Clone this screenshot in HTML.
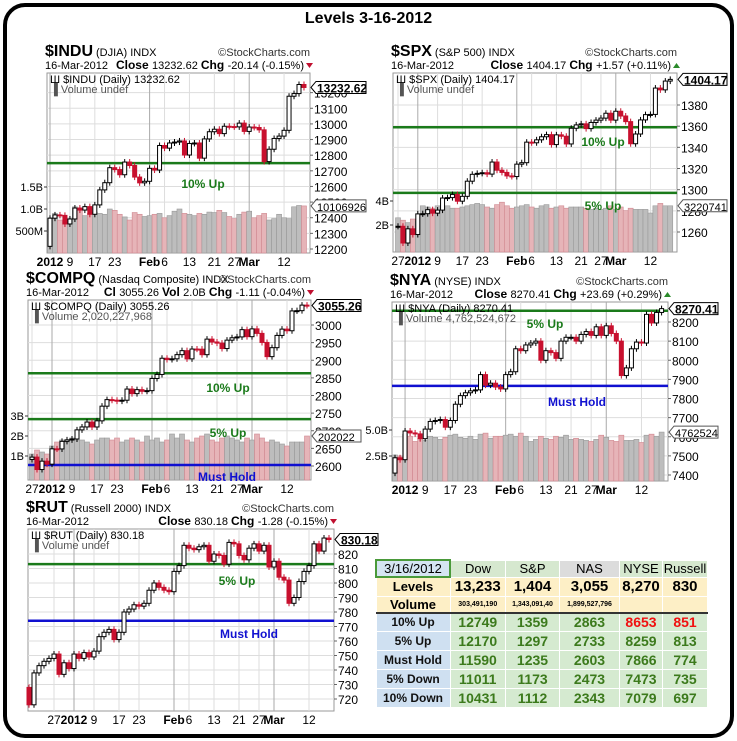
<!DOCTYPE html>
<html><head><meta charset="utf-8">
<style>
html,body{margin:0;padding:0;background:#fff;}
body{width:737px;height:741px;position:relative;overflow:hidden;font-family:"Liberation Sans",sans-serif;}
#frame{position:absolute;left:3px;top:3px;width:723px;height:727px;border:4px solid #000;border-radius:22px;}
#title{position:absolute;left:0;width:737px;top:10px;text-align:center;font-weight:bold;font-size:16px;}
svg{position:absolute;left:0;top:0;}
table{position:absolute;left:375px;top:559px;border-collapse:collapse;font-family:"Liberation Sans",sans-serif;}
td{padding:0;text-align:center;border:1px solid #fff;font-weight:bold;}
</style></head>
<body>
<div id="frame"></div>
<div id="title">Levels 3-16-2012</div>
<svg id="svg" width="737" height="741"></svg>

<table>
<tr style="height:16px;background:#d6e8cf;font-size:13px;font-weight:normal">
<td style="width:72px;background:#d5e5f2;border:2px solid #4a9a3a;font-weight:normal">3/16/2012</td>
<td style="width:54px;font-weight:normal">Dow</td>
<td style="width:53px;font-weight:normal">S&amp;P</td>
<td style="width:59px;font-weight:normal;background:#dcdcdc">NAS</td>
<td style="width:42px;font-weight:normal">NYSE</td>
<td style="width:44px;font-weight:normal">Russell</td></tr>
<tr style="height:19px;background:#fdefc6;font-size:15px">
<td style="font-size:13px">Levels</td><td>13,233</td><td>1,404</td><td>3,055</td><td>8,270</td><td>830</td></tr>
<tr style="height:15px;background:#fdefc6;font-size:7px;border-bottom:2px solid #333">
<td style="font-size:13px">Volume</td><td>303,491,190</td><td>1,343,091,40</td><td>1,899,527,796</td><td></td><td></td></tr>
<tr style="height:19px;font-size:14px;color:#3c7a1c;background:#d5ead0">
<td style="background:#cfe0f1;color:#111;font-size:12px">10% Up</td><td>12749</td><td>1359</td><td>2863</td><td style="color:#f01010">8653</td><td style="color:#f01010">851</td></tr>
<tr style="height:19px;font-size:14px;color:#3c7a1c;background:#d5ead0">
<td style="background:#cfe0f1;color:#111;font-size:12px">5% Up</td><td>12170</td><td>1297</td><td>2733</td><td>8259</td><td>813</td></tr>
<tr style="height:19px;font-size:14px;color:#3c7a1c;background:#d5ead0">
<td style="background:#cfe0f1;color:#111;font-size:12px">Must Hold</td><td>11590</td><td>1235</td><td>2603</td><td>7866</td><td>774</td></tr>
<tr style="height:19px;font-size:14px;color:#3c7a1c;background:#d5ead0">
<td style="background:#cfe0f1;color:#111;font-size:12px">5% Down</td><td>11011</td><td>1173</td><td>2473</td><td>7473</td><td>735</td></tr>
<tr style="height:19px;font-size:14px;color:#3c7a1c;background:#d5ead0">
<td style="background:#cfe0f1;color:#111;font-size:12px">10% Down</td><td>10431</td><td>1112</td><td>2343</td><td>7079</td><td>697</td></tr>
</table>

<script>
const tradingDays = ["12-19","12-20","12-21","12-22","12-23","12-27","12-28","12-29","12-30",
"01-03","01-04","01-05","01-06","01-09","01-10","01-11","01-12","01-13","01-17","01-18","01-19","01-20","01-23","01-24","01-25","01-26","01-27","01-30","01-31",
"02-01","02-02","02-03","02-06","02-07","02-08","02-09","02-10","02-13","02-14","02-15","02-16","02-17","02-21","02-22","02-23","02-24","02-27","02-28","02-29",
"03-01","03-02","03-05","03-06","03-07","03-08","03-09","03-12","03-13","03-14","03-15","03-16"];

const induCloses = [12217,12397,12418,12415,12360,12392,12462,12449,12471,12422,12482,12578,12624,12720,12708,12675,12756,12734,12660,12623,12633,12716,12705,12862,12845,12878,12884,12891,12801,12875,12878,12781,12904,12950,12966,12938,12985,12983,12981,13005,12952,12980,12977,12962,12759,12838,12907,12922,12959,13177,13194,13252,13233];
const induVolumes = [0.8,0.9,0.75,0.72,0.78,1.05,1.0,0.85,0.9,0.93,0.9,0.88,1.0,0.97,0.88,0.82,0.75,0.92,0.88,0.83,0.85,0.88,0.9,0.8,0.85,0.95,1.0,0.9,0.88,0.85,0.9,0.88,0.93,0.92,0.97,0.92,0.83,0.78,0.88,0.93,0.95,0.8,0.85,0.9,0.75,0.78,0.88,0.8,0.78,1.05,1.08,1.07];

const spxCloses = [1265.3,1265.4,1249.6,1263.0,1257.6,1277.1,1277.3,1281.1,1277.8,1280.7,1292.1,1292.5,1295.5,1289.1,1293.7,1308.0,1314.5,1315.4,1316.0,1314.7,1326.1,1318.4,1316.3,1313.0,1312.4,1324.1,1325.5,1344.9,1344.3,1347.1,1350.0,1352.0,1342.6,1351.8,1350.5,1343.2,1358.0,1361.2,1362.2,1357.7,1363.5,1365.7,1367.6,1372.2,1365.7,1374.1,1369.6,1364.3,1343.4,1352.6,1365.9,1370.9,1371.1,1396.0,1394.3,1402.6,1404.2];
const spxVolumes = [2.6,2.4,2.2,2.5,2.3,3.6,3.5,3.4,3.6,3.3,3.6,3.4,3.4,3.5,3.6,3.7,3.8,3.7,3.5,3.4,3.7,3.9,3.6,3.4,3.5,3.6,3.7,3.5,3.4,3.6,3.7,3.4,3.5,3.6,3.4,3.5,3.5,3.5,3.4,3.3,3.4,3.3,3.4,3.6,3.3,3.5,3.2,3.4,3.3,3.3,3.3,3.0,3.6,3.8,3.6,3.6];

const compqCloses = [2618.6,2625.2,2590.0,2613.7,2605.2,2648.7,2648.4,2669.9,2674.2,2676.6,2702.5,2710.8,2724.7,2710.7,2728.1,2769.7,2788.3,2786.7,2784.2,2786.6,2818.3,2805.3,2816.6,2811.9,2813.8,2848.3,2859.7,2905.7,2902.0,2904.1,2915.9,2927.2,2903.9,2931.8,2931.4,2915.8,2959.9,2951.8,2948.6,2933.2,2957.0,2963.8,2966.2,2986.8,2966.9,2989.0,2976.2,2950.5,2910.3,2935.7,2970.4,2988.3,2983.7,3039.9,3040.7,3056.4,3055.3];
const compqVolumes = [1.1,1.3,1.2,1.1,1.5,1.7,1.8,1.7,1.9,1.8,1.8,1.7,1.6,1.8,1.9,1.9,1.8,1.9,1.7,1.8,1.9,1.8,1.7,2.0,1.8,1.9,1.7,1.8,2.1,1.9,2.1,1.8,1.7,1.9,2.0,2.1,1.8,1.7,1.9,2.0,1.9,1.8,1.7,1.9,1.8,2.1,1.9,1.7,1.8,1.7,1.6,1.5,1.7,1.7,1.7,2.0];

const nyaCloses = [7410,7490,7480,7630,7620,7615,7590,7640,7680,7685,7690,7650,7685,7770,7815,7830,7840,7845,7925,7870,7880,7860,7850,7925,7940,8060,8050,8080,8090,8100,8000,8050,8040,8010,8100,8120,8120,8100,8135,8150,8130,8175,8130,8180,8140,8100,7920,7960,8060,8095,8090,8240,8195,8250,8270];
const nyaVolumes = [2.6,2.5,4.6,4.4,3.9,4.2,4.0,4.4,4.3,4.1,4.3,4.5,4.6,4.3,4.2,4.4,4.1,4.6,4.7,4.2,4.4,4.4,4.5,4.6,4.4,4.7,4.4,3.9,4.1,4.4,4.2,4.1,4.4,4.3,4.5,4.1,4.2,4.1,4.0,3.9,4.1,4.5,4.3,4.0,3.9,4.5,4.0,4.0,4.1,3.8,4.5,4.6,4.4,4.8];

const rutCloses = [728,716,738,743,746,748,751,737,745,741,751,748,752,749,753,763,766,768,761,766,780,782,785,784,786,795,800,797,795,794,808,812,826,824,823,825,826,815,820,819,813,828,827,819,816,824,827,822,826,811,815,804,802,786,790,801,808,812,827,822,831,830];

const labelsMain = [["01-03","2012",1],["01-09","9",0],["01-17","17",0],["01-23","23",0],["02-01","Feb",1],["02-06","6",0],["02-13","13",0],["02-21","21",0],["02-27","27",0],["03-01","Mar",1],["03-12","12",0]];
const labelsWide = [["12-27","27",0]].concat(labelsMain);

const NS="http://www.w3.org/2000/svg";
const svg=document.getElementById('svg');
function el(tag,attrs,parent,text){const e=document.createElementNS(NS,tag);for(const k in attrs)e.setAttribute(k,attrs[k]);if(text!==undefined)e.textContent=text;(parent||svg).appendChild(e);return e;}

function drawChart(cfg, closes, vols){
  const g=el('g',{});
  
  
  const yOf=v=>cfg.p1[1]+(v-cfg.p1[0])*(cfg.p2[1]-cfg.p1[1])/(cfg.p2[0]-cfg.p1[0]);
  const xOf=i=>cfg.x0+i*cfg.step;
  const F='Liberation Sans, sans-serif';
  let t=el('text',{x:cfg.L-2,y:cfg.T-17,'font-family':F,'font-size':16,'font-weight':'bold'},g,cfg.sym);
  
  
  let w=t.getComputedTextLength ? t.getComputedTextLength() : cfg.sym.length*10.5;
  el('text',{x:cfg.L+w+1,y:cfg.T-17,'font-family':F,'font-size':11},g,cfg.desc);
  el('text',{x:cfg.R,y:cfg.T-17,'font-family':F,'font-size':11,'text-anchor':'end',fill:'#333'},g,'\u00a9StockCharts.com');
  el('text',{x:cfg.L-2,y:cfg.T-4,'font-family':F,'font-size':11},g,'16-Mar-2012');
  const hdr=el('text',{x:cfg.R-6,y:cfg.T-4,'font-family':F,'font-size':11,'text-anchor':'end'},g);
  cfg.line2.forEach(p=>{el('tspan',{'font-weight':p[1]?'bold':'normal','font-size':p[1]?12:11},hdr,p[0]);});
  el('path',{d:cfg.up?`M${cfg.R-4},${cfg.T-5} l7,0 l-3.5,-5z`:`M${cfg.R-4},${cfg.T-10} l7,0 l-3.5,5z`,fill:cfg.up?'#2a8a2a':'#c01030'},g);
  const pb=el('rect',{x:cfg.L,y:cfg.T,width:cfg.R-cfg.L,height:cfg.B-cfg.T,fill:'#fff',stroke:'#999','stroke-width':1},g);
  
  
  for(let v=cfg.tmin; v<=cfg.tmax+1e-6; v+=cfg.tstep){
    const y=yOf(v);
    if(y<cfg.T+2||y>cfg.B-2) continue;
    el('line',{x1:cfg.L,x2:cfg.R,y1:y,y2:y,stroke:'#ddd'},g);
    el('line',{x1:cfg.R,x2:cfg.R+3,y1:y,y2:y,stroke:'#666'},g);
    const tl=el('text',{x:cfg.R+4,y:y+5,'font-family':F,'font-size':12},g,String(v));
    
    
  }
  cfg.dates.forEach(d=>{
    const idx=tradingDays.indexOf(d[0])-cfg.start; if(idx<0)return;
    const x=xOf(idx);
    el('line',{x1:x,x2:x,y1:cfg.T,y2:cfg.B,stroke:d[2]?'#aaa':'#ddd'},g);
    const dl=el('text',{x:x,y:cfg.B+13,'font-family':F,'font-size':12,'font-weight':d[2]?'bold':'normal','text-anchor':'middle'},g,d[1]);
    
    
  });
  if(vols){
    const vy=v=>cfg.vBase - v*cfg.vScale;
    cfg.vTicks.forEach(tk=>{
      const y=vy(tk[0]);
      el('line',{x1:cfg.L-3,x2:cfg.L,y1:y,y2:y,stroke:'#333'},g);
      el('text',{x:cfg.L-4,y:y+4,'font-family':F,'font-size':11,'text-anchor':'end'},g,tk[1]);
    });
    vols.forEach((v,i)=>{
      const down=closes[i+1]<closes[i];
      const b=el('rect',{x:xOf(i)-2.5,y:vy(v),width:5,height:cfg.B-vy(v),fill:down?'#e6b4b8':'#bdbdbd',stroke:down?'#d08890':'#999','stroke-width':0.6},g);
      
      
    });
  }
  cfg.hlines.forEach(h=>{
    const y=yOf(h[0]);
    const ln=el('line',{x1:cfg.L,x2:cfg.R,y1:y,y2:y,stroke:h[1],'stroke-width':2.5},g);
    
    
    const lt=el('text',{x:h[3],y:h[4],'font-family':F,'font-size':12,'font-weight':'bold',fill:h[1],'text-anchor':'middle'},g,h[2]);
    
    
  });
  for(let i=0;i<closes.length-1;i++){
    const o=closes[i], c=closes[i+1], x=xOf(i);
    const down=c<o, col=down?'#c8102e':'#000';
    const yt=yOf(Math.max(o,c)), yb=yOf(Math.min(o,c));
    const wk=el('line',{x1:x,x2:x,y1:yt-3,y2:yb+3,stroke:col,'stroke-width':1},g);
    
    
    const cb=el('rect',{x:x-2,y:yt,width:4,height:Math.max(1,yb-yt),fill:down?col:'#fff',stroke:col,'stroke-width':1},g);
    
    
  }
  el('text',{x:cfg.L+3,y:cfg.T+10,'font-family':F,'font-size':11},g,'\u0428 '+cfg.sym+' (Daily) '+cfg.last);
  el('text',{x:cfg.L+3,y:cfg.T+20,'font-family':F,'font-size':11,fill:'#555'},g,'\u2590 '+cfg.volText);
  const ly=yOf(closes[closes.length-1]);
  el('path',{d:`M${cfg.R+1},${ly} l5,-6 h${cfg.boxW} v12 h-${cfg.boxW}z`,fill:'#fff',stroke:'#000'},g);
  const lp=el('text',{x:cfg.R+7,y:ly+5,'font-family':F,'font-size':12,'font-weight':'bold'},g,cfg.last);
  
  
  if(vols&&cfg.vLabel){
    const vyl=cfg.vBase-vols[vols.length-1]*cfg.vScale;
    el('path',{d:`M${cfg.R+1},${vyl} l5,-6 h${cfg.boxW} v12 h-${cfg.boxW}z`,fill:'#fff',stroke:'#555'},g);
    el('text',{x:cfg.R+7,y:vyl+5,'font-family':F,'font-size':11},g,cfg.vLabel);
  }
}

drawChart({id:'indu',sym:'$INDU',desc:'(DJIA) INDX',L:47,R:310,T:73,B:253,x0:50,step:4.98,start:9,
  p1:[13300,77],p2:[12200,249],tmin:12200,tmax:13200,tstep:100,dates:labelsMain,
  line2:[['Close ',1],['13232.62  ',0],['Chg ',1],['-20.14 (-0.15%)',0]],up:false,
  hlines:[[12749,'#1a7a1a','10% Up',203,188]],
  vBase:253,vScale:44,vTicks:[[0.5,'500M'],[1.0,'1.0B'],[1.5,'1.5B']],vLabel:'10106926',
  last:'13232.62',volText:'Volume undef',boxW:50}, induCloses, induVolumes);

drawChart({id:'spx',sym:'$SPX',desc:'(S&P 500) INDX',L:393,R:677,T:73,B:252,x0:398,step:4.95,start:5,
  p1:[1380,105],p2:[1260,232],tmin:1260,tmax:1380,tstep:20,dates:labelsWide,
  line2:[['Close ',1],['1404.17  ',0],['Chg ',1],['+1.57 (+0.11%)',0]],up:true,
  hlines:[[1359,'#1a7a1a','10% Up',603,146],[1297,'#1a7a1a','5% Up',603,210]],
  vBase:249,vScale:12,vTicks:[[2,'2B'],[4,'4B']],vLabel:'3220741',
  last:'1404.17',volText:'Volume undef',boxW:44}, spxCloses, spxVolumes);

drawChart({id:'compq',sym:'$COMPQ',desc:'(Nasdaq Composite) INDX',L:28,R:311,T:300,B:480,x0:32,step:5,start:5,
  p1:[3000,325],p2:[2600,466],tmin:2600,tmax:3000,tstep:50,dates:labelsWide,
  line2:[['Cl ',1],['3055.26  ',0],['Vol ',1],['2.0B  ',0],['Chg ',1],['-1.11 (-0.04%)',0]],up:false,
  hlines:[[2863,'#1a7a1a','10% Up',228,392],[2733,'#1a7a1a','5% Up',228,437],[2603,'#1010d0','Must Hold',227,481]],
  vBase:476,vScale:20,vTicks:[[1,'1B'],[2,'2B'],[3,'3B']],vLabel:'202022',
  last:'3055.26',volText:'Volume 2,020,227,968',boxW:44}, compqCloses, compqVolumes);

drawChart({id:'nya',sym:'$NYA',desc:'(NYSE) INDX',L:392,R:668,T:302,B:481,x0:395,step:5.03,start:7,
  p1:[8200,322],p2:[7400,475],tmin:7400,tmax:8200,tstep:100,dates:labelsMain,
  line2:[['Close ',1],['8270.41  ',0],['Chg ',1],['+23.69 (+0.29%)',0]],up:true,
  hlines:[[8259,'#1a7a1a','5% Up',545,328],[7866,'#1010d0','Must Hold',577,406]],
  vBase:482,vScale:10.4,vTicks:[[2.5,'2.5B'],[5,'5.0B']],vLabel:'4762524',
  last:'8270.41',volText:'Volume 4,762,524,672',boxW:44}, nyaCloses, nyaVolumes);

drawChart({id:'rut',sym:'$RUT',desc:'(Russell 2000) INDX',L:28,R:334,T:529,B:711,x0:29,step:5,start:0,
  p1:[820,554],p2:[720,699],tmin:720,tmax:820,tstep:10,dates:labelsWide,
  line2:[['Close ',1],['830.18  ',0],['Chg ',1],['-1.28 (-0.15%)',0]],up:false,
  hlines:[[813,'#1a7a1a','5% Up',237,585],[774,'#1010d0','Must Hold',249,638]],
  last:'830.18',volText:'Volume undef',boxW:38}, rutCloses, null);
</script>
</body></html>
